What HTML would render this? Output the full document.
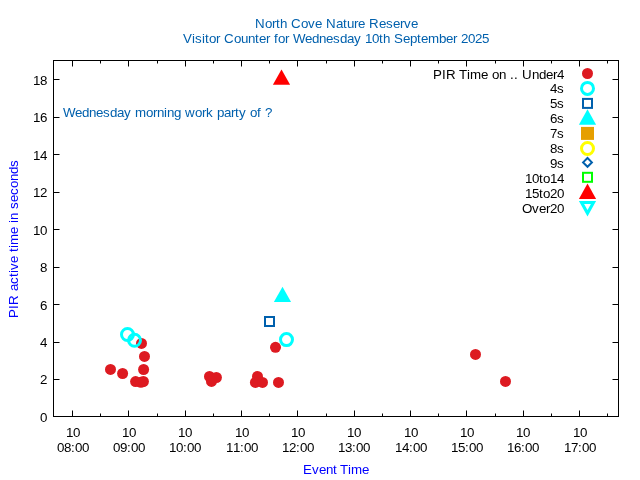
<!DOCTYPE html><html><head><meta charset="utf-8"><style>html,body{margin:0;padding:0;background:#fff;overflow:hidden}svg{display:block;will-change:transform}text{font-family:"Liberation Sans",Arial,sans-serif;font-size:13.333px}</style></head><body>
<svg width="640" height="480" viewBox="0 0 640 480">
<rect width="640" height="480" fill="#fff"/>
<path d="M53.5 379.5h6M618.5 379.5h-6M53.5 342.5h6M618.5 342.5h-6M53.5 304.5h6M618.5 304.5h-6M53.5 267.5h6M618.5 267.5h-6M53.5 229.5h6M618.5 229.5h-6M53.5 192.5h6M618.5 192.5h-6M53.5 154.5h6M618.5 154.5h-6M53.5 117.5h6M618.5 117.5h-6M53.5 79.5h6M618.5 79.5h-6M72.5 416.5v-6M72.5 60.5v6M128.5 416.5v-6M128.5 60.5v6M185.5 416.5v-6M185.5 60.5v6M241.5 416.5v-6M241.5 60.5v6M297.5 416.5v-6M297.5 60.5v6M354.5 416.5v-6M354.5 60.5v6M410.5 416.5v-6M410.5 60.5v6M466.5 416.5v-6M466.5 60.5v6M523.5 416.5v-6M523.5 60.5v6M579.5 416.5v-6M579.5 60.5v6M100.5 416.5v-3M100.5 60.5v3M157.5 416.5v-3M157.5 60.5v3M213.5 416.5v-3M213.5 60.5v3M269.5 416.5v-3M269.5 60.5v3M326.5 416.5v-3M326.5 60.5v3M382.5 416.5v-3M382.5 60.5v3M438.5 416.5v-3M438.5 60.5v3M495.5 416.5v-3M495.5 60.5v3M551.5 416.5v-3M551.5 60.5v3M607.5 416.5v-3M607.5 60.5v3" stroke="#000" stroke-width="1" fill="none"/>
<rect x="53.5" y="60.5" width="565.0" height="356.0" stroke="#000" stroke-width="1" fill="none"/>
<g fill="#000">
<text x="40" y="422">0</text>
<text x="40" y="384">2</text>
<text x="40" y="347">4</text>
<text x="40" y="310">6</text>
<text x="40" y="272">8</text>
<text x="33 40" y="235">10</text>
<text x="33 40" y="197">12</text>
<text x="33 40" y="160">14</text>
<text x="33 40" y="122">16</text>
<text x="33 40" y="85">18</text>
</g>
<g fill="#000">
<text x="66 73" y="437">10</text>
<text x="57 64 71 75 82" y="452">08:00</text>
<text x="122 129" y="437">10</text>
<text x="113 120 127 131 138" y="452">09:00</text>
<text x="178 185" y="437">10</text>
<text x="169 176 183 187 194" y="452">10:00</text>
<text x="235 242" y="437">10</text>
<text x="226 233 240 244 251" y="452">11:00</text>
<text x="291 298" y="437">10</text>
<text x="282 289 296 300 307" y="452">12:00</text>
<text x="347 354" y="437">10</text>
<text x="338 345 352 356 363" y="452">13:00</text>
<text x="404 411" y="437">10</text>
<text x="395 402 409 413 420" y="452">14:00</text>
<text x="460 467" y="437">10</text>
<text x="451 458 465 469 476" y="452">15:00</text>
<text x="516 523" y="437">10</text>
<text x="507 514 521 525 532" y="452">16:00</text>
<text x="573 580" y="437">10</text>
<text x="564 571 578 582 589" y="452">17:00</text>
</g>
<g fill="#0060ad">
<text x="255 265 272 276 280 287 291 301 308 315 322 326 336 343 347 354 358 365 369 379 386 393 400 404 411" y="28">North Cove Nature Reserve</text>
<text x="183 192 195 202 205 209 216 220 224 234 241 248 255 259 266 270 274 278 285 289 293 305 312 319 326 333 340 347 354 361 365 372 379 383 390 394 403 410 417 421 428 439 446 453 457 461 468 475 482" y="43">Visitor Counter for Wednesday 10th September 2025</text>
<text x="63 75 82 89 96 103 110 117 124 131 135 146 153 157 164 167 174 181 185 195 202 206 213 217 224 231 235 239 246 250 257 261 265" y="117">Wednesday morning work party of ?</text>
</g>
<g fill="#0000ff">
<text x="303 312 319 326 333 337 340 348 351 362" y="474">Event Time</text>
<text x="0 9 13 23 27 34 41 45 48 55 62 66 70 73 84 91 95 98 105 109 116 123 130 137 144 151" y="0" transform="translate(18 318) rotate(-90)">PIR active time in seconds</text>
</g>
<g fill="#000">
<text x="433 442 446 456 459 467 470 481 488 492 499 506 510 514 518 522 532 539 546 553 557" y="79">PIR Time on .. Under4</text>
<text x="550 557" y="93">4s</text>
<text x="550 557" y="108">5s</text>
<text x="550 557" y="123">6s</text>
<text x="550 557" y="138">7s</text>
<text x="550 557" y="153">8s</text>
<text x="550 557" y="168">9s</text>
<text x="525 532 539 543 550 557" y="183">10to14</text>
<text x="525 532 539 543 550 557" y="198">15to20</text>
<text x="522 532 539 546 550 557" y="213">Over20</text>
</g>
<circle cx="110.5" cy="369.4" r="5.5" fill="#dd1a21"/>
<circle cx="122.6" cy="373.5" r="5.5" fill="#dd1a21"/>
<circle cx="141.5" cy="343.4" r="5.5" fill="#dd1a21"/>
<circle cx="144.5" cy="356.4" r="5.5" fill="#dd1a21"/>
<circle cx="143.6" cy="369.5" r="5.5" fill="#dd1a21"/>
<circle cx="135.6" cy="381.6" r="5.5" fill="#dd1a21"/>
<circle cx="140.9" cy="382.3" r="5.5" fill="#dd1a21"/>
<circle cx="143.4" cy="381.5" r="5.5" fill="#dd1a21"/>
<circle cx="209.5" cy="376.5" r="5.5" fill="#dd1a21"/>
<circle cx="216.4" cy="377.5" r="5.5" fill="#dd1a21"/>
<circle cx="211.5" cy="381.4" r="5.5" fill="#dd1a21"/>
<circle cx="275.5" cy="347.3" r="5.5" fill="#dd1a21"/>
<circle cx="257.5" cy="376.5" r="5.5" fill="#dd1a21"/>
<circle cx="255.4" cy="382.4" r="5.5" fill="#dd1a21"/>
<circle cx="262.5" cy="382.4" r="5.5" fill="#dd1a21"/>
<circle cx="278.5" cy="382.4" r="5.5" fill="#dd1a21"/>
<circle cx="475.5" cy="354.4" r="5.5" fill="#dd1a21"/>
<circle cx="505.5" cy="381.4" r="5.5" fill="#dd1a21"/>
<circle cx="587.5" cy="73.5" r="5.5" fill="#dd1a21"/>
<circle cx="127.5" cy="334.5" r="6" fill="none" stroke="#00ffff" stroke-width="3"/>
<circle cx="134.5" cy="340.3" r="6" fill="none" stroke="#00ffff" stroke-width="3"/>
<circle cx="286.5" cy="339.6" r="6" fill="none" stroke="#00ffff" stroke-width="3"/>
<circle cx="587.5" cy="88.4" r="6" fill="none" stroke="#00ffff" stroke-width="3"/>
<rect x="265.0" y="317.0" width="9" height="9" fill="none" stroke="#0060ad" stroke-width="2"/>
<rect x="583.0" y="98.9" width="9" height="9" fill="none" stroke="#0060ad" stroke-width="2"/>
<path d="M282.5 286.7L291.1 302.09999999999997L273.9 302.09999999999997Z" fill="#00ffff"/>
<path d="M587.5 109.3L596.1 124.7L578.9 124.7Z" fill="#00ffff"/>
<rect x="581.0" y="126.9" width="13" height="13" fill="#e69f00"/>
<circle cx="587.5" cy="148.5" r="6" fill="none" stroke="#ffff00" stroke-width="3"/>
<path d="M587.5 158.0L591.9 162.4L587.5 166.8L583.1 162.4Z" fill="none" stroke="#0060ad" stroke-width="2"/>
<rect x="583.0" y="172.8" width="9" height="9" fill="none" stroke="#00ff00" stroke-width="2"/>
<path d="M281.5 69.4L290.1 84.80000000000001L272.9 84.80000000000001Z" fill="#ff0000"/>
<path d="M587.5 183.5L596.1 198.9L578.9 198.9Z" fill="#ff0000"/>
<path d="M578.9 200.9L596.1 200.9L587.5 216.5ZM584.1 204.1L587.5 210.1L590.9 204.1Z" fill="#00ffff" fill-rule="evenodd"/>
</svg></body></html>
